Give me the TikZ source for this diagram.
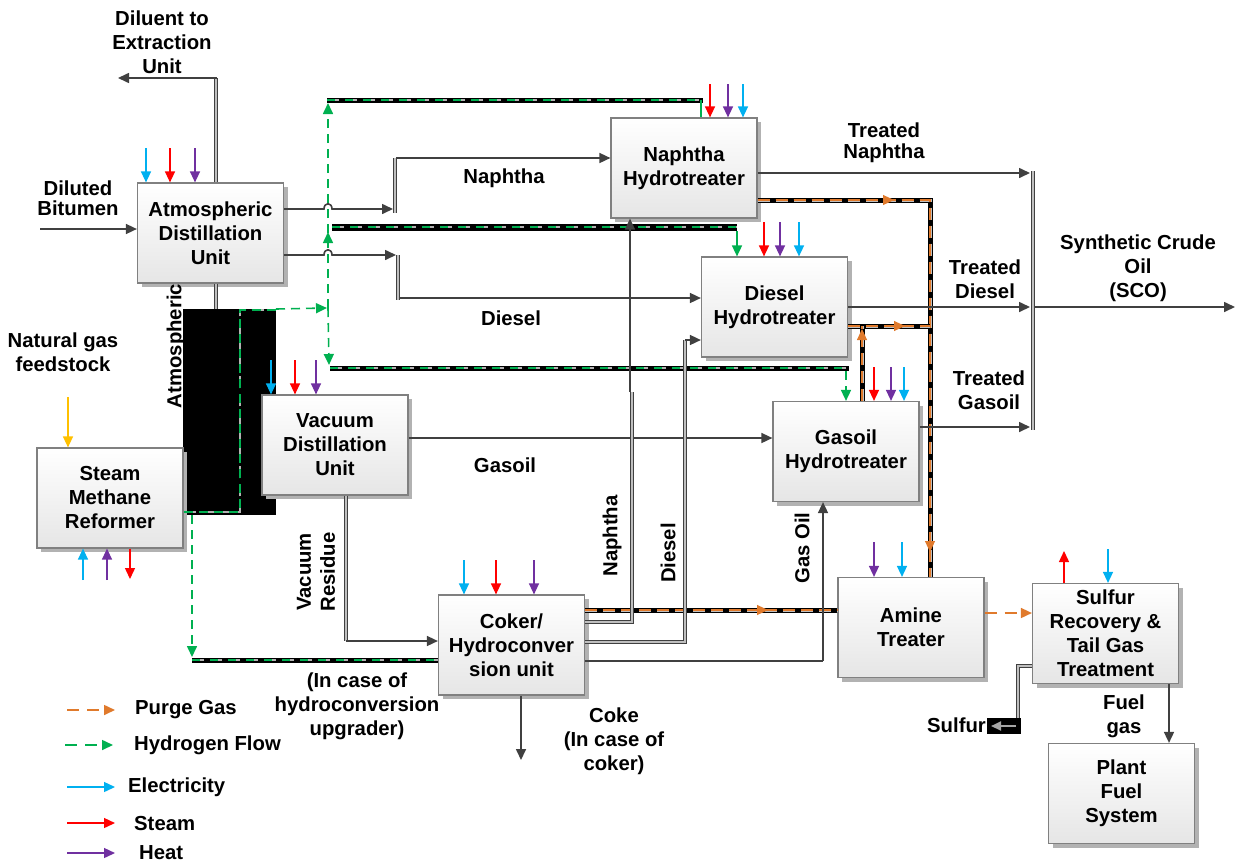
\documentclass[tikz,border=0pt]{standalone}
\usepackage{fontspec}
\setmainfont{Liberation Sans}
\usetikzlibrary{arrows.meta,shadows}
\definecolor{hgreen}{HTML}{00B050}
\definecolor{eblue}{HTML}{00B0F0}
\definecolor{sred}{HTML}{FF0000}
\definecolor{hpurple}{HTML}{7030A0}
\definecolor{porange}{HTML}{E07A2C}
\definecolor{fyellow}{HTML}{FFC000}
\definecolor{flowgray}{HTML}{404040}
\begin{document}
\begin{tikzpicture}[x=1pt,y=-1pt,
  every node/.style={font=\fontsize{20.3}{24}\selectfont\bfseries, inner sep=0pt, align=center},
  box/.style={draw=gray, line width=1.2pt, minimum width=146pt, minimum height=100pt,
    top color=white, bottom color=black!10,
    drop shadow={shadow xshift=4pt, shadow yshift=-4pt, fill=black!30, opacity=1}},
  tip/.style={-{Triangle[length=11pt,width=10pt]}},
  flow/.style={draw=flowgray, line width=1.6pt, tip},
  flowline/.style={draw=flowgray, line width=1.6pt},
  pipe/.style={draw=flowgray, line width=0.8pt, double=black!25, double distance=2.6pt},
  energy/.style={line width=1.4pt, tip},
  h2dash/.style={draw=hgreen, line width=1.6pt, dash pattern=on 9pt off 6pt},
  purgedash/.style={draw=porange, line width=1.6pt, dash pattern=on 12pt off 8pt},
  h2pipe/.style={draw=black, line width=5pt,
    postaction={draw=black!30, line width=2.4pt, dash pattern=on 12pt off 6pt},
    postaction={draw=hgreen, line width=2.4pt, dash pattern=on 8pt off 10pt}},
  purgepipe/.style={draw=black, line width=5pt,
    postaction={draw=black!25, line width=3pt, dash pattern=on 12pt off 6pt},
    postaction={draw=porange, line width=1.6pt, dash pattern=on 12pt off 6pt}},
]
\useasboundingbox (0,0) rectangle (1238,865);

% black block
\fill[black] (183,309) rectangle (276,515);

% ---------- boxes ----------
\node[box] (adu) at (210.5,233) {Atmospheric\\Distillation\\Unit};
\node[box] (nht) at (684,168) {Naphtha\\Hydrotreater};
\node[box] (dht) at (774.5,307) {Diesel\\Hydrotreater};
\node[box] (ght) at (846,451.5) {Gasoil\\Hydrotreater};
\node[box] (vdu) at (335,445) {Vacuum\\Distillation\\Unit};
\node[box] (smr) at (110,498) {Steam\\Methane\\Reformer};
\node[box] (cok) at (511.5,645) {Coker/\\Hydroconver\\sion unit};
\node[box] (amt) at (911,627.5) {Amine\\Treater};
\node[box] (sru) at (1105.5,633.5) {Sulfur\\Recovery \&\\Tail Gas\\Treatment};
\node[box] (pfs) at (1121.5,793.5) {Plant\\Fuel\\System};

% ---------- hydrogen lines ----------
\draw[h2pipe] (327,100) -- (703,100);
\draw[hgreen, line width=1.6pt] (701,100) -- (701,0 |- nht.north);
\draw[h2pipe, line width=7pt] (332,227) -- (737,227);
\draw[hgreen, line width=1.6pt, tip] (737,231) -- (737,0 |- dht.north);
\draw[h2pipe] (330,368) -- (849,368);
\draw[h2dash, tip] (846,371) -- (846,0 |- ght.north);
\draw[h2pipe] (192,660) -- (cok.west |- 0,660);

\draw[black!30, line width=2.4pt, dash pattern=on 12pt off 6pt] (smr.east |- 0,512) -- (240,512) -- (240,310) -- (276,310);
\draw[h2dash] (smr.east |- 0,512) -- (240,512) -- (240,310) -- (276,310);
\draw[h2dash, tip] (276,309) -- (327,308);
\draw[h2dash, tip] (328,308) -- (328,103);
\draw[h2dash, tip] (328,308) -- (329,365);
\draw[hgreen, line width=1.6pt, tip] (328,242) -- (328,232);
\draw[h2dash, tip] (192,515) -- (192,657);

% ---------- purge gas lines ----------
\draw[purgepipe] (nht.east |- 0,200) -- (930,200) -- (930,0 |- amt.north);
\draw[purgepipe] (dht.east |- 0,326) -- (930,326);
\draw[purgepipe] (862,0 |- ght.north) -- (862,326);
\draw[purgepipe] (cok.east |- 0,610) -- (amt.west |- 0,610);
\draw[purgedash, tip] (amt.east |- 0,613) -- (sru.west |- 0,613);
\draw[porange, line width=1pt, tip] (884,200) -- (894,200);
\draw[porange, line width=1pt, tip] (895,326) -- (905,326);
\draw[porange, line width=1pt, tip] (862,340) -- (862,329);
\draw[porange, line width=1pt, tip] (930,540) -- (930,552);
\draw[porange, line width=1pt, tip] (758,610) -- (768,610);

% ---------- product flows ----------
\draw[flow] (40,229) -- (adu.west |- 0,229);
\draw[pipe] (216,0 |- adu.north) -- (216,78);
\draw[flow] (217,78) -- (118,78);
\draw[pipe] (216,0 |- adu.south) -- (216,309);

\draw[flow] (adu.east |- 0,209) -- (324,209) .. controls (324,202) and (332,202) .. (332,209) -- (393,209);
\draw[pipe] (395,158) -- (395,213);
\draw[flow] (396,158) -- (nht.west |- 0,158);
\draw[flow] (adu.east |- 0,255) -- (324,255) .. controls (324,248) and (332,248) .. (332,255) -- (396,255);
\draw[pipe] (398,255) -- (398,300);
\draw[flow] (399,298) -- (dht.west |- 0,298);

\draw[flow] (vdu.east |- 0,438) -- (ght.west |- 0,438);
\draw[pipe] (346,0 |- vdu.south) -- (346,641);
\draw[flow] (346,641) -- (cok.west |- 0,641);

\draw[pipe] (cok.east |- 0,622) -- (632,622) -- (632,392);
\draw[flow] (630,392) -- (630,0 |- nht.south);
\draw[pipe] (cok.east |- 0,642) -- (685,642) -- (685,340);
\draw[flow] (685,340) -- (dht.west |- 0,340);
\draw[flowline] (cok.east |- 0,661) -- (823,661);
\draw[flow] (823,661) -- (823,0 |- ght.south);
\draw[flow] (521,0 |- cok.south) -- (521,760);

\draw[flow] (nht.east |- 0,173) -- (1030,173);
\draw[flow] (dht.east |- 0,307) -- (1030,307);
\draw[flow] (ght.east |- 0,427) -- (1030,427);
\draw[pipe] (1033,171) -- (1033,430);
\draw[flow] (1034,307) -- (1235,307);

\draw[pipe] (sru.west |- 0,666) -- (1018,666) -- (1018,722);
\fill[black] (987,718) rectangle (1021,734);
\draw[draw=black!35, line width=2pt, -{Triangle[length=10pt,width=9pt]}] (1016,726) -- (991,726);
\draw[flow] (1169,0 |- sru.south) -- (1169,0 |- pfs.north);

% ---------- energy arrows ----------
\draw[energy, eblue] (146,148) -- (146,0 |- adu.north);
\draw[energy, sred] (170,148) -- (170,0 |- adu.north);
\draw[energy, hpurple] (195,148) -- (195,0 |- adu.north);

\draw[energy, sred] (710,84) -- (710,0 |- nht.north);
\draw[energy, hpurple] (728,84) -- (728,0 |- nht.north);
\draw[energy, eblue] (743,84) -- (743,0 |- nht.north);

\draw[energy, sred] (764,222) -- (764,0 |- dht.north);
\draw[energy, hpurple] (780,222) -- (780,0 |- dht.north);
\draw[energy, eblue] (799,222) -- (799,0 |- dht.north);

\draw[energy, sred] (874,367) -- (874,0 |- ght.north);
\draw[energy, hpurple] (891,367) -- (891,0 |- ght.north);
\draw[energy, eblue] (904,367) -- (904,0 |- ght.north);

\draw[energy, eblue] (271,360) -- (271,0 |- vdu.north);
\draw[energy, sred] (295,360) -- (295,0 |- vdu.north);
\draw[energy, hpurple] (316,360) -- (316,0 |- vdu.north);

\draw[energy, eblue] (464,560) -- (464,0 |- cok.north);
\draw[energy, sred] (496,560) -- (496,0 |- cok.north);
\draw[energy, hpurple] (534,560) -- (534,0 |- cok.north);

\draw[energy, hpurple] (874,542) -- (874,0 |- amt.north);
\draw[energy, eblue] (902,542) -- (902,0 |- amt.north);

\draw[energy, sred] (1064,0 |- sru.north) -- (1064,551);
\draw[energy, eblue] (1108,549) -- (1108,0 |- sru.north);

\draw[energy, fyellow] (68,397) -- (68,0 |- smr.north);
\draw[energy, eblue] (83,580) -- (83,0 |- smr.south);
\draw[energy, hpurple] (107,580) -- (107,0 |- smr.south);
\draw[energy, sred] (130,0 |- smr.south) -- (130,579);

% ---------- labels ----------
\node (tDil) at (162,42) {Diluent to\\Extraction\\Unit};
\node (tDB) at (78,198) {Diluted\\[-4pt]Bitumen};
\node (tNap) at (504,178) {Naphtha};
\node (tDsl) at (511,318) {Diesel};
\node (tGso) at (505,465) {Gasoil};
\node[rotate=90] (tAtm) at (176,346) {Atmospheric};
\node (tNG) at (63,352) {Natural gas\\feedstock};
\node[rotate=90] (tVR) at (316,572) {Vacuum\\Residue};
\node (tHC) at (357,706) {(In case of\\hydroconversion\\upgrader)};
\node (tCoke) at (614,741) {Coke\\(In case of\\coker)};
\node[rotate=90] (tNap2) at (612,536) {Naphtha};
\node[rotate=90] (tDsl2) at (668,553) {Diesel};
\node[rotate=90] (tGO) at (802,548) {Gas Oil};
\node (tTN) at (884,143) {Treated\\[-3pt]Naphtha};
\node (tTD) at (985,279) {Treated\\Diesel};
\node (tTG) at (989,390) {Treated\\Gasoil};
\node (tSCO) at (1138,268) {Synthetic Crude\\Oil\\(SCO)};
\node[anchor=east] (tS) at (986,725) {Sulfur};
\node (tFG) at (1124,716) {Fuel\\gas};

% ---------- legend ----------
\draw[purgedash, tip] (67,710) -- (115,710);
\node[anchor=west] (lPG) at (135,710) {Purge Gas};
\draw[h2dash, dash pattern=on 12pt off 8pt, tip] (65,745) -- (113,745);
\node[anchor=west] (lHF) at (134,745) {Hydrogen Flow};
\draw[energy, eblue] (67,787) -- (115,787);
\node[anchor=west] (lEl) at (128,787) {Electricity};
\draw[energy, sred] (67,823) -- (115,823);
\node[anchor=west] (lSt) at (134,823) {Steam};
\draw[energy, hpurple] (67,853) -- (115,853);
\node[anchor=west] (lHt) at (139,853) {Heat};
\end{tikzpicture}
\end{document}
